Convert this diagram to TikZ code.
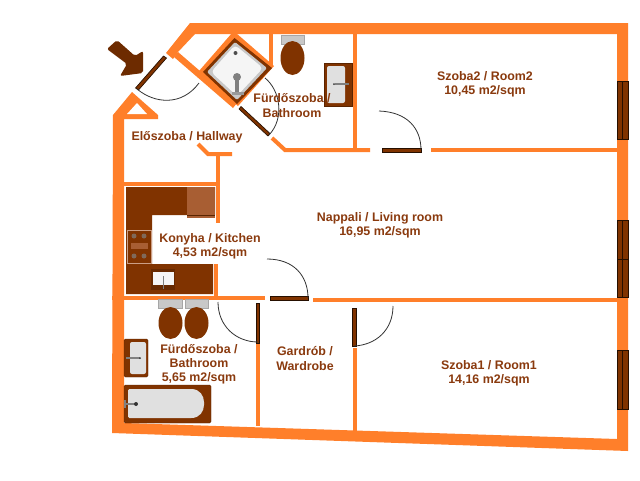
\documentclass[tikz,border=0pt]{standalone}
\usepackage{fontspec}
\setmainfont{Liberation Sans}
\definecolor{wall}{HTML}{FF7F2A}
\definecolor{brn}{HTML}{803300}
\definecolor{ltbrn}{HTML}{A85E33}
\definecolor{txt}{HTML}{8A3A0E}
\definecolor{fixt}{HTML}{E0E0E0}
\definecolor{fixtb}{HTML}{C8C8C8}
\tikzset{
  x=0.75pt,y=-0.75pt,
  wallfill/.style={fill=wall,draw=none},
  thinwall/.style={draw=wall,line width=3pt},
  leaf/.style={draw=black!70!brn,fill=brn,line width=0.5pt},
  swing/.style={draw=black!80,line width=0.6pt},
  brownfix/.style={fill=brn,draw=brn!70!black,line width=0.3pt},
  greyfix/.style={fill=fixt,draw=none},
  tank/.style={fill=fixtb,draw=black!35,line width=0.3pt},
  bowl/.style={fill=brn,draw=none},
  win/.style={fill=brn,draw=black!70!brn,line width=0.5pt},
  roomlabel/.style={text=txt,font=\fontsize{9.3pt}{10.6pt}\selectfont\bfseries,align=center,inner sep=0pt}
}
\begin{document}
\begin{tikzpicture}
\useasboundingbox[fill=white] (0,0) rectangle (640,480);
% outer shell
\fill[wallfill] (166,53) -- (190,23) -- (628,23) -- (628,451) -- (112,433) -- (113,115) -- (132,92) -- (158,115) -- (158,119) -- (124,119) -- (124,423) -- (617,439) -- (617,34) -- (195,34) -- (178,52) -- (173,59) -- cycle;
\fill[white] (127,114) -- (147,114) -- (137,103) -- cycle;
% diagonal wall and shower surround
\fill[wallfill] (178,52) -- (237,103) -- (233,108) -- (174,57) -- cycle;
\fill[wallfill] (199,71) -- (232,33) -- (236,33) -- (274,66) -- (238,106) -- cycle;
% inner walls
\draw[thinwall] (271,34) -- (271,66);
\draw[thinwall] (355,34) -- (355,150);
\draw[thinwall,line join=miter] (272,138) -- (285,150) -- (370,150);
\draw[thinwall] (431,150) -- (617,150);
\draw[thinwall,line join=miter] (198,144) -- (208,154) -- (232,154);
\draw[thinwall] (218,154) -- (218,223);
\draw[thinwall] (124,184) -- (218,184);
\draw[thinwall] (216,264) -- (216,298);
\draw[draw=wall,line width=3.4pt] (112,298) -- (265,298);
\draw[thinwall] (313,300) -- (617,300);
\draw[thinwall] (258,343) -- (258,426);
\draw[thinwall] (355,348) -- (355,431);
% windows
\foreach \ya/\yb in {81/139,220/259,259/297,350/409}{
  \filldraw[win] (617,\ya) rectangle (628,\yb);
  \draw[black!70!brn,line width=0.4pt] (622.5,\ya) -- (622.5,\yb);
}
% doors
\filldraw[leaf] (163.5,56) -- (166.5,58) -- (138.5,90) -- (135.5,88) -- cycle;
\draw[swing] (137,89) .. controls (155,104) and (182,106) .. (199,83);
\filldraw[leaf] (241,106.5) -- (270,133.5) -- (268,136) -- (239,109) -- cycle;
\draw[swing] (269,135) .. controls (285,118) and (280,90) .. (265,78);
\filldraw[leaf] (382,148.5) rectangle (421,152);
\draw[swing] (421,150) .. controls (421,128) and (407,112) .. (379,111);
\filldraw[leaf] (270,296.5) rectangle (308,300);
\draw[swing] (308,298) .. controls (308,276) and (294,259) .. (267,259);
\filldraw[leaf] (256.5,303) rectangle (259.5,343);
\draw[swing] (258,342) .. controls (236,342) and (218,326) .. (218,302);
\filldraw[leaf] (352.5,308) rectangle (356,346);
\draw[swing] (354,346) .. controls (376,345) and (393,330) .. (393,306);
% kitchen
\fill[brn] (126,187) -- (215,187) -- (215,215) -- (152,215) -- (152,264) -- (213,264) -- (213,294) -- (126,294) -- cycle;
\fill[ltbrn] (187,187) rectangle (215,218);
\draw[black!30!brn,line width=0.4pt] (187,215) -- (215,215);
\draw[ltbrn!60!white,line width=0.6pt] (127,230) rectangle (151,263);
\foreach \cx/\cy in {134/236,144/236,134/256,144/256}{\fill[gray!70!brn] (\cx,\cy) circle (2.5);}
\fill[ltbrn] (131,243) rectangle (148,249);
\fill[brn!80!black] (151,269) rectangle (175,290);
\fill[white!92!gray] (153,272) rectangle (174,285);
\draw[gray,line width=0.7pt] (163,276) -- (163,289);
% upper bathroom shower
\fill[brn] (234.5,38) -- (272,68) -- (237,104) -- (203,72) -- cycle;
\fill[fixtb,rounded corners=1pt] (235,42) -- (267,68) -- (237,100) -- (207,72) -- cycle;
\fill[white!92!gray,rounded corners=3pt] (235,45) -- (263,68) -- (237,96) -- (211,72) -- cycle;
\fill[gray!60!black] (235.5,53) circle (2);
\fill[gray] (235,77) rectangle (239,92);
\fill[gray] (237,77) circle (4);
\fill[gray!80] (232,92) rectangle (244,95);
% upper bathroom fixtures
\filldraw[tank] (281,35) rectangle (304,44);
\fill[bowl] (292.5,58) ellipse (12 and 17);
\fill[brownfix] (324,63) rectangle (352,106);
\fill[greyfix,rounded corners=1.5pt] (327,66) rectangle (345,103);
\draw[gray,line width=0.9pt] (335,84) -- (349,84);
\fill[gray!40!black] (334,84) circle (1);
% lower bathroom
\filldraw[tank] (158,299) rectangle (182,308);
\filldraw[tank] (185,299) rectangle (208,308);
\fill[bowl] (170.5,323) ellipse (12 and 16);
\fill[bowl] (196.5,323) ellipse (12 and 16);
\fill[brownfix,rounded corners=1pt] (124,339) rectangle (148,377);
\fill[greyfix,rounded corners=1.5pt] (130,342) rectangle (146,374);
\draw[gray,line width=0.9pt] (126,358) -- (140,358);
\fill[gray!40!black] (140,358) circle (1);
\fill[brownfix,rounded corners=1pt] (124,385) rectangle (211,423);
\fill[fixt,rounded corners=1pt] (128,389) -- (190,389) .. controls (200,389) and (204,396) .. (204,403.5) .. controls (204,411) and (200,418) .. (190,418) -- (128,418) -- cycle;
\draw[gray,line width=1.2pt] (125,404) -- (135,404);
\draw[gray,line width=0.8pt] (125,400) -- (125,408);
\fill[gray!40!black] (136,404) circle (2);
% entrance arrow
\fill[brn!85!black,rounded corners=1.5pt] (107,49) -- (117,40) -- (135,56) -- (143,51) -- (143,73) -- (120,76) -- (127,64) -- cycle;
% labels
\node[roomlabel] (hall) at (187,137) {Előszoba / Hallway};
\node[roomlabel] (bath1) at (292,105.5) {Fürdőszoba /\\Bathroom};
\node[roomlabel] (room2) at (485,84) {Szoba2 / Room2\\10,45 m2/sqm};
\node[roomlabel] (living) at (380,225) {Nappali / Living room\\16,95 m2/sqm};
\node[roomlabel] (kitchen) at (210,246) {Konyha / Kitchen\\4,53 m2/sqm};
\node[roomlabel] (bath2) at (199,364) {Fürdőszoba /\\Bathroom\\5,65 m2/sqm};
\node[roomlabel] (wardrobe) at (305,358.5) {Gardrób /\\Wardrobe};
\node[roomlabel] (room1) at (489,373.5) {Szoba1 / Room1\\14,16 m2/sqm};
\end{tikzpicture}
\end{document}
